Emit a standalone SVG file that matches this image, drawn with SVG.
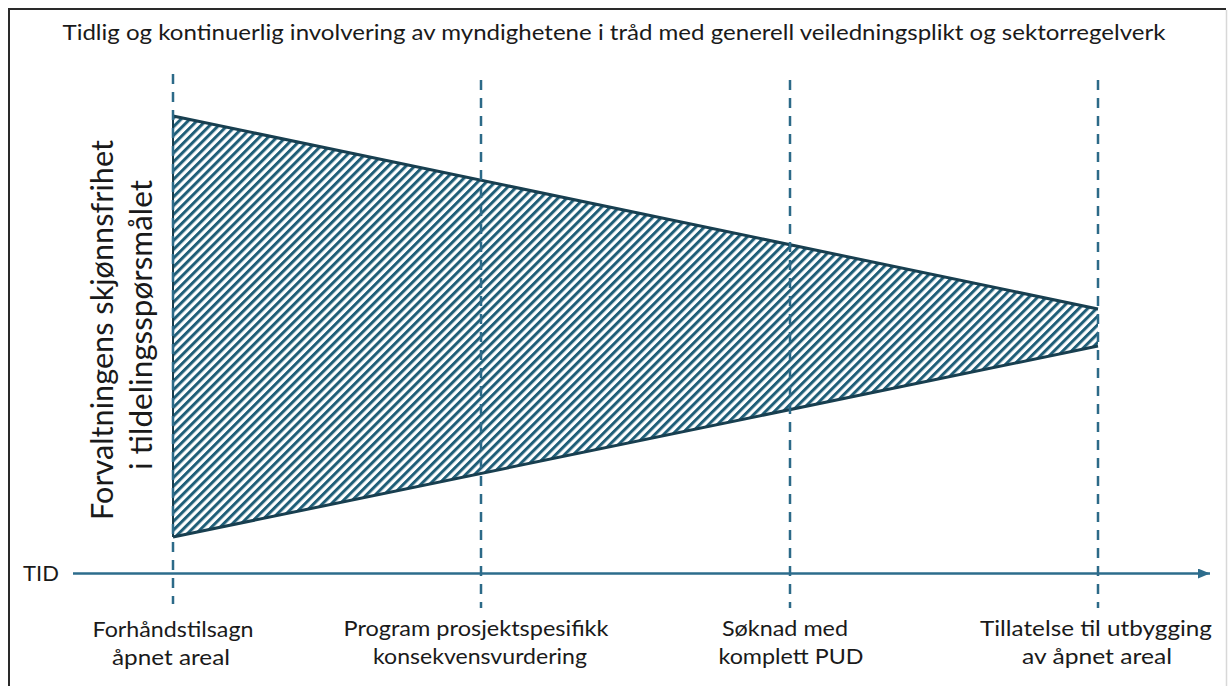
<svg xmlns="http://www.w3.org/2000/svg" width="1228" height="686" viewBox="0 0 1228 686">
  <defs>
    <pattern id="hatch" patternUnits="userSpaceOnUse" width="6.2" height="10" patternTransform="rotate(45)">
      <rect x="0" y="0" width="6.2" height="10" fill="#ffffff"/>
      <rect x="0" y="0" width="3" height="10" fill="#1f5e78"/>
    </pattern>
    <marker id="arrow" markerWidth="12" markerHeight="10" refX="12" refY="5" orient="auto" markerUnits="userSpaceOnUse">
      <path d="M0,0 L12,5 L0,10 Z" fill="#2d6c8c"/>
    </marker>
  </defs>
  <style>
    .lbl { font-family: Lato, "Open Sans", "Liberation Sans", sans-serif; font-size: 22px; fill: #1a1a1a; text-anchor: middle; }
    .vt { font-family: Lato, "Open Sans", "Liberation Sans", sans-serif; font-size: 30px; fill: #1a1a1a; text-anchor: middle; }
    .dash { stroke: #2c6a88; stroke-width: 2.5; stroke-dasharray: 10 8; fill: none; }
    .edge { stroke: #183f50; stroke-width: 3; fill: none; }
  </style>
  <rect x="0" y="0" width="1228" height="686" fill="#ffffff"/>
  <g id="frame">
    <line x1="8" y1="9" x2="1226" y2="9" stroke="#2a2a2a" stroke-width="2"/>
    <line x1="9" y1="8" x2="9" y2="686" stroke="#2a2a2a" stroke-width="2"/>
    <line x1="1226.5" y1="10" x2="1226.5" y2="686" stroke="#d8d8d8" stroke-width="1.5"/>
  </g>
  <g id="title">
    <text class="lbl" x="614" y="40" font-size="20" textLength="1103" lengthAdjust="spacingAndGlyphs">Tidlig og kontinuerlig involvering av myndighetene i tråd med generell veiledningsplikt og sektorregelverk</text>
  </g>
  <g id="wedge">
    <polygon points="173,116 1098,309 1098,346 173,537" fill="url(#hatch)"/>
    <polyline class="edge" points="173,116 1098,309"/>
    <polyline class="edge" points="173,537 1098,346"/>
    <line x1="173" y1="116" x2="173" y2="537" stroke="#183f50" stroke-width="2"/>
  </g>
  <g id="yaxis-label">
    <text class="vt" transform="translate(113,330) rotate(-90)" textLength="380" lengthAdjust="spacingAndGlyphs">Forvaltningens skjønnsfrihet</text>
    <text class="vt" transform="translate(152,325) rotate(-90)" textLength="290" lengthAdjust="spacingAndGlyphs">i tildelingsspørsmålet</text>
  </g>
  <g id="connectors">
    <line class="dash" x1="173" y1="74" x2="173" y2="604"/>
    <line class="dash" x1="481" y1="80" x2="481" y2="608"/>
    <line class="dash" x1="790" y1="80" x2="790" y2="608"/>
    <line class="dash" x1="1098" y1="80" x2="1098" y2="608"/>
    <line x1="73" y1="573.5" x2="1210" y2="573.5" stroke="#2d6c8c" stroke-width="2.5" marker-end="url(#arrow)"/>
  </g>
  <g id="axis-label">
    <text class="lbl" x="41" y="581" font-size="20">TID</text>
  </g>
  <g id="m1">
    <text class="lbl" x="173" y="637" textLength="161" lengthAdjust="spacingAndGlyphs">Forhåndstilsagn</text>
    <text class="lbl" x="171" y="665" textLength="118" lengthAdjust="spacingAndGlyphs">åpnet areal</text>
  </g>
  <g id="m2">
    <text class="lbl" x="476" y="636" textLength="265" lengthAdjust="spacingAndGlyphs">Program prosjektspesifikk</text>
    <text class="lbl" x="480" y="664" textLength="214" lengthAdjust="spacingAndGlyphs">konsekvensvurdering</text>
  </g>
  <g id="m3">
    <text class="lbl" x="785" y="636" textLength="126" lengthAdjust="spacingAndGlyphs">Søknad med</text>
    <text class="lbl" x="791" y="664" textLength="145" lengthAdjust="spacingAndGlyphs">komplett PUD</text>
  </g>
  <g id="m4">
    <text class="lbl" x="1096" y="636" textLength="232" lengthAdjust="spacingAndGlyphs">Tillatelse til utbygging</text>
    <text class="lbl" x="1097" y="664" textLength="150" lengthAdjust="spacingAndGlyphs">av åpnet areal</text>
  </g>
</svg>
